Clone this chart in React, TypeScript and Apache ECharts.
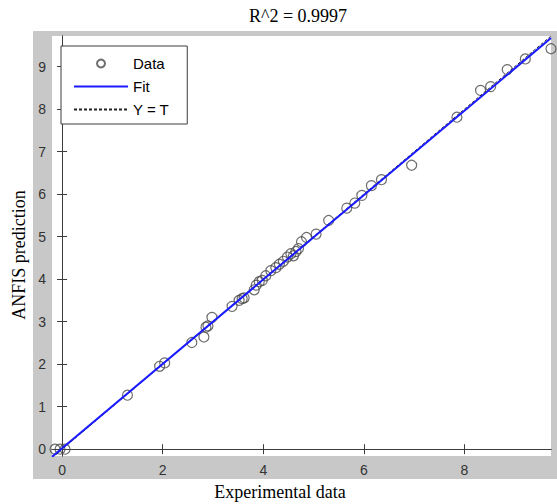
import React, { useEffect, useRef } from "react";
import * as echarts from "echarts";

const expData = [
  -0.14, -0.04, 0.06, 1.3, 1.94, 2.04, 2.58, 2.82, 2.86, 2.9, 2.98, 3.38, 3.52,
  3.58, 3.62, 3.82, 3.86, 3.92, 3.98, 4.05, 4.15, 4.25, 4.32, 4.4, 4.48, 4.55,
  4.6, 4.65, 4.7, 4.76, 4.86, 5.05, 5.3, 5.66, 5.82, 5.96, 6.15, 6.35, 6.95,
  7.85, 8.32, 8.52, 8.85, 9.21, 9.72,
];
const anfisPred = [
  0.0, 0.0, 0.0, 1.27, 1.95, 2.03, 2.51, 2.64, 2.87, 2.9, 3.1, 3.36, 3.5, 3.54,
  3.56, 3.75, 3.86, 3.94, 3.97, 4.08, 4.2, 4.27, 4.35, 4.42, 4.52, 4.6, 4.55,
  4.65, 4.72, 4.88, 4.98, 5.06, 5.38, 5.67, 5.79, 5.97, 6.2, 6.34, 6.68, 7.81,
  8.44, 8.53, 8.93, 9.18, 9.42,
];

const xTicks = [0, 2, 4, 6, 8];
const yTicks = [0, 1, 2, 3, 4, 5, 6, 7, 8, 9];
const xLimits = [-0.2, 9.72];
const yLimits = [-0.16, 9.72];
const fitSlope = 0.993;
const fitIntercept = 0.02;
const titleText = "R^2 = 0.9997";
const xName = "Experimental data";
const yName = "ANFIS prediction";

export default function App() {
  const ref = useRef<HTMLDivElement>(null);
  useEffect(() => {
    if (!ref.current) return;
    const chart = echarts.init(ref.current, undefined, { renderer: "svg" });
    const scatterData = expData.map((x, i) => [x, anfisPred[i]]);
    const fitData = xLimits.map((x) => [x, fitSlope * x + fitIntercept]);
    const idData = xLimits.map((x) => [x, x]);
    const tickLabel = {
      fontFamily: "Liberation Sans, Arial, sans-serif",
      fontSize: 14,
      color: "#333",
    };
    const axisLine = { show: true, lineStyle: { color: "#3c3c3c", width: 1 } };
    const tickStyle = { lineStyle: { color: "#3c3c3c", width: 1 } };
    chart.setOption({
      animation: false,
      backgroundColor: "#fff",
      graphic: [
        {
          type: "rect",
          shape: { x: 33, y: 31, width: 524, height: 448 },
          style: { fill: "#c8c8c8" },
          z: -10,
          silent: true,
        },
        {
          type: "text",
          x: 298,
          y: 16,
          style: {
            text: titleText,
            font: "18px 'Liberation Serif', 'Times New Roman', serif",
            fill: "#000",
            textAlign: "center",
            textVerticalAlign: "middle",
          },
        },
        {
          type: "text",
          x: 280,
          y: 492,
          style: {
            text: xName,
            font: "18px 'Liberation Serif', 'Times New Roman', serif",
            fill: "#000",
            textAlign: "center",
            textVerticalAlign: "middle",
          },
        },
        {
          type: "text",
          x: 19,
          y: 255,
          rotation: Math.PI / 2,
          style: {
            text: yName,
            font: "18px 'Liberation Serif', 'Times New Roman', serif",
            fill: "#000",
            textAlign: "center",
            textVerticalAlign: "middle",
          },
        },
      ],
      grid: {
        left: 52,
        top: 36,
        right: 6,
        bottom: 48,
        show: true,
        backgroundColor: "#fff",
        borderWidth: 0,
      },
      legend: {
        orient: "vertical",
        left: 61,
        top: 46,
        padding: [10, 18, 7, 12],
        itemWidth: 54,
        itemHeight: 8,
        itemGap: 8,
        backgroundColor: "#fff",
        borderColor: "#3c3c3c",
        borderWidth: 1,
        borderRadius: 0,
        textStyle: {
          fontFamily: "Liberation Sans, Arial, sans-serif",
          fontSize: 15,
          color: "#000",
          lineHeight: 14,
        },
        data: [
          { name: "Data" },
          { name: "Fit", itemStyle: { opacity: 0 } },
          { name: "Y = T", itemStyle: { opacity: 0 } },
        ],
      },
      xAxis: [
        {
          type: "value",
          position: "bottom",
          min: xLimits[0],
          max: xLimits[1],
          axisLine,
          splitLine: { show: false },
          axisTick: { show: true, inside: true, length: 5, customValues: xTicks, ...tickStyle },
          axisLabel: { ...tickLabel, margin: 7, customValues: xTicks },
        },
        {
          type: "value",
          position: "top",
          min: xLimits[0],
          max: xLimits[1],
          axisLine,
          splitLine: { show: false },
          axisTick: { show: true, inside: true, length: 5, customValues: xTicks, ...tickStyle },
          axisLabel: { show: false },
        },
      ],
      yAxis: [
        {
          type: "value",
          position: "left",
          min: yLimits[0],
          max: yLimits[1],
          axisLine,
          splitLine: { show: false },
          axisTick: { show: true, inside: true, length: 5, customValues: yTicks, ...tickStyle },
          axisLabel: { ...tickLabel, margin: 6, customValues: yTicks },
        },
        {
          type: "value",
          position: "right",
          min: yLimits[0],
          max: yLimits[1],
          axisLine,
          splitLine: { show: false },
          axisTick: { show: true, inside: true, length: 5, customValues: yTicks, ...tickStyle },
          axisLabel: { show: false },
        },
      ],
      series: [
        {
          name: "Data",
          type: "scatter",
          data: scatterData,
          symbol: "circle",
          symbolSize: 10,
          itemStyle: { color: "rgba(255,255,255,0)", borderColor: "#4a4a4a", borderWidth: 1.2 },
          z: 2,
        },
        {
          name: "Y = T",
          type: "line",
          data: idData,
          showSymbol: false,
          symbol: "none",
          itemStyle: { color: "#222" },
          lineStyle: { color: "#222", width: 1, type: [3, 2] },
          z: 3,
        },
        {
          name: "Fit",
          type: "line",
          data: fitData,
          showSymbol: false,
          symbol: "none",
          itemStyle: { color: "#1a1aff" },
          lineStyle: { color: "#1a1aff", width: 2 },
          z: 4,
        },
      ],
    });
    return () => chart.dispose();
  }, []);
  return (
    <div
      ref={ref}
      style={{ position: "fixed", left: 0, top: 0, width: 557, height: 504 }}
    />
  );
}
